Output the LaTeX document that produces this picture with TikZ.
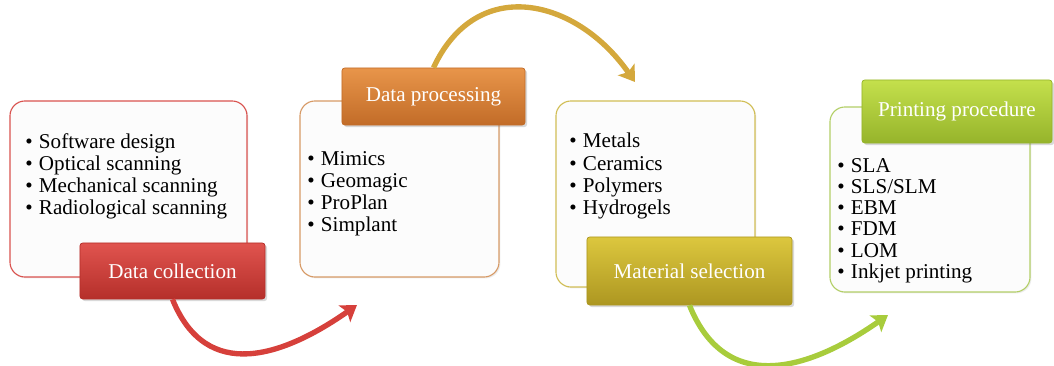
\documentclass[tikz,border=0pt]{standalone}
\usepackage{xcolor}
\usepackage{fontspec}
\setmainfont{Liberation Serif}
\usetikzlibrary{arrows.meta,shadows}
\definecolor{redline}{HTML}{D9534F}
\definecolor{redtop}{HTML}{E0544F}
\definecolor{redbot}{HTML}{B52F2A}
\definecolor{orangeline}{HTML}{D79A66}
\definecolor{orangetop}{HTML}{E8954A}
\definecolor{orangebot}{HTML}{C26C28}
\definecolor{oliveline}{HTML}{D1BE55}
\definecolor{olivetop}{HTML}{DCC73E}
\definecolor{olivebot}{HTML}{AD9721}
\definecolor{greenline}{HTML}{B3CF67}
\definecolor{greentop}{HTML}{C4E04C}
\definecolor{greenbot}{HTML}{96B42B}
\definecolor{goldarrow}{HTML}{D4A83C}
\definecolor{greenarrow}{HTML}{A8CC3C}
\definecolor{redarrow}{HTML}{D6403B}
\newcommand{\itm}{\textbullet\kern4.5pt}

\begin{document}
\begin{tikzpicture}
      [x=0.025cm, y=-0.025cm,
       box/.style={draw=#1, line width=0.8pt, rounded corners=0.375cm,
         fill=black!1, drop shadow={opacity=0.15, shadow xshift=1pt, shadow yshift=-1pt}},
       title/.style={draw=#1bot, line width=0.5pt, rounded corners=2pt,
         top color=#1top, bottom color=#1bot, text=white,
         font=\fontsize{15}{18}\selectfont,
         drop shadow={opacity=0.3, shadow xshift=1.5pt, shadow yshift=-1.5pt}},
       items/.style={anchor=north west, inner sep=0pt, align=left,
         font=\fontsize{15}{15.8}\selectfont},
       bend/.style={line width=3.8pt, draw=#1,
         -{Stealth[length=0.38cm, width=0.5cm, inset=0.08cm]}}]
      \useasboundingbox (0, 0) rectangle (1054, 366);

      \node(1)[box=redline, minimum width=5.925cm, minimum height=4.4cm] at (128.5, 189) {};
      \node(2)[title=red, minimum width=4.625cm, minimum height=1.4cm] at (172.5, 271) {Data collection};
      \node(3)[box=orangeline, minimum width=4.975cm, minimum height=4.4cm] at (399.5, 189) {};
      \node(4)[title=orange, minimum width=4.575cm, minimum height=1.425cm] at (433.5, 96.5) {Data processing};
      \node(5)[box=oliveline, minimum width=4.975cm, minimum height=4.65cm] at (655.5, 194) {};
      \node(6)[title=olive, minimum width=5.125cm, minimum height=1.7cm] at (689.5, 271) {Material selection};
      \node(7)[box=greenline, minimum width=5cm, minimum height=4.625cm] at (930, 199.5) {};
      \node(8)[title=green, minimum width=4.75cm, minimum height=1.575cm] at (957, 111.5) {Printing procedure};

      \node(9)[items] at (25, 133) {\itm Software design\\ \itm Optical scanning\\
        \itm Mechanical scanning\\ \itm Radiological scanning};
      \node(10)[items] at (307, 151) {\itm Mimics\\ \itm Geomagic\\
        \itm ProPlan\\ \itm Simplant};
      \node(11)[items] at (569, 133) {\itm Metals\\ \itm Ceramics\\
        \itm Polymers\\ \itm Hydrogels};
      \node(12)[items, font=\fontsize{15}{15.1}\selectfont] at (837, 158) {\itm SLA\\ \itm SLS/SLM\\
        \itm EBM\\ \itm FDM\\ \itm LOM\\ \itm Inkjet printing};

      \coordinate(a) at (357, 305);
      \coordinate(b) at (635, 82);
      \coordinate(c) at (888, 315);
      \draw[bend=redarrow](2.south) to[out=-68, in=215, looseness=1.25] (a);
      \draw[bend=goldarrow](4.north) to[out=65, in=125, looseness=1.3] (b);
      \draw[bend=greenarrow](6.south) to[out=-68, in=215, looseness=1.25] (c);
  \end{tikzpicture}
\end{document}
